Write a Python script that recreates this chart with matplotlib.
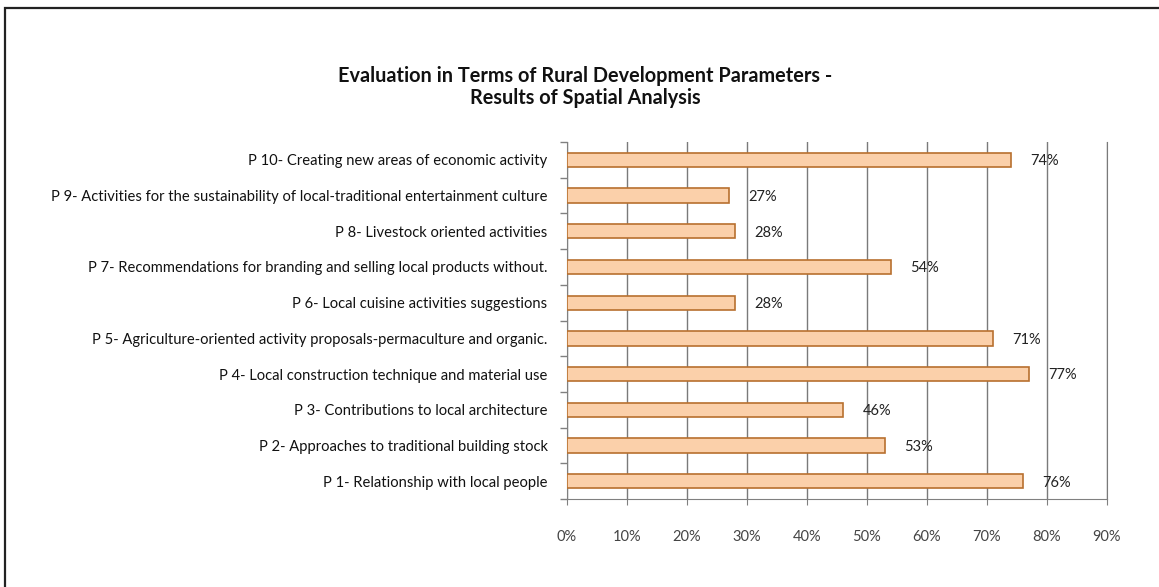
import matplotlib.pyplot as plt
from matplotlib.patches import Rectangle
from matplotlib.ticker import FuncFormatter, MultipleLocator

plt.rcParams['font.family'] = ['Lato', 'DejaVu Sans']

# parameters, bottom to top
labels = [
    'P 1- Relationship with local people',
    'P 2- Approaches to traditional building stock',
    'P 3- Contributions to local architecture',
    'P 4- Local construction technique and material use',
    'P 5- Agriculture-oriented activity proposals-permaculture and organic.',
    'P 6- Local cuisine activities suggestions',
    'P 7- Recommendations for branding and selling local products without.',
    'P 8- Livestock oriented activities',
    'P 9- Activities for the sustainability of local-traditional entertainment culture',
    'P 10- Creating new areas of economic activity',
]
values = [0.76, 0.53, 0.46, 0.77, 0.71, 0.28, 0.54, 0.28, 0.27, 0.74]
title = 'Evaluation in Terms of Rural Development Parameters -\nResults of Spatial Analysis'

fig = plt.figure(figsize=(11.59, 5.87), dpi=100)
ax = fig.add_axes([0.4892, 0.1499, 0.4659, 0.6081])

ypos = list(range(len(values)))
ax.barh(ypos, values, height=0.4, color='#FBD0AA', edgecolor='#B8702F', linewidth=1.2, zorder=3)

for y, v in zip(ypos, values):
    ax.annotate(f'{round(v * 100)}%', (v, y), xytext=(14, -1), textcoords='offset points',
                ha='left', va='center', fontsize=10.5, color='#222222', zorder=4)

ax.set_xlim(0, 0.9)
ax.set_ylim(-0.5, len(values) - 0.5)
ax.xaxis.set_major_locator(MultipleLocator(0.1))
ax.xaxis.set_major_formatter(FuncFormatter(lambda x, pos: f'{round(x * 100)}%'))
ax.grid(axis='x', color='#7a7a7a', linewidth=1, zorder=0)

ax.set_yticks(ypos)
ax.set_yticklabels(labels, fontsize=10.6, color='#111111')
ax.set_yticks([y - 0.5 for y in range(len(values) + 1)], minor=True)
ax.tick_params(axis='y', which='major', length=0, pad=14)
ax.tick_params(axis='y', which='minor', length=5, color='#808080', width=1)
ax.tick_params(axis='x', length=4, color='#808080', pad=18, labelsize=10.5, labelcolor='#444444')

ax.spines['top'].set_visible(False)
for side in ['left', 'bottom']:
    ax.spines[side].set_color('#808080')
ax.spines['right'].set_color('#7a7a7a')

fig.text(0.505, 0.852, title, ha='center', va='center', fontsize=14.3, fontweight='bold',
         linespacing=1.1, color='#111111')

# frame around the chart (only top and left visible)
fig.add_artist(Rectangle((5 / 1159, -0.2), 1.5, 1.2 - 8 / 587, transform=fig.transFigure,
                         fill=False, edgecolor='#222222', linewidth=1.6))

fig.savefig('out.png', dpi=100)
